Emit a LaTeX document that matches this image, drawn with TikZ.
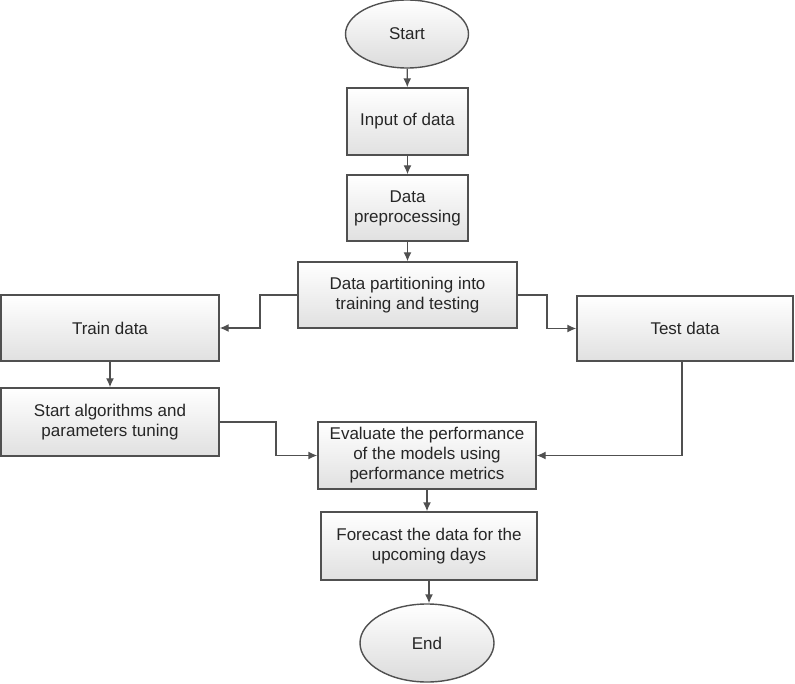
\documentclass[tikz,border=0pt]{standalone}
\usepackage{fontspec}
\setmainfont{Liberation Sans}
\usetikzlibrary{shapes.geometric,arrows.meta}
\definecolor{edge}{HTML}{505050}
\definecolor{txt}{HTML}{262626}
\begin{document}
\begin{tikzpicture}[x=1pt,y=-1pt,
  box/.style={draw=edge,line width=1.4pt,top color=white,bottom color=black!12,
    minimum width=#1,align=center,text=txt,font=\fontsize{17}{20}\selectfont,inner sep=2pt},
  oval/.style={ellipse,draw=edge,line width=1.4pt,top color=white,bottom color=black!14,
    text=txt,font=\fontsize{17}{20}\selectfont},
  conn/.style={draw=edge,line width=1.4pt,-{Latex[length=9pt,width=8pt]}}]
\useasboundingbox (0,0) rectangle (795,684);
\node[oval,minimum width=123pt,minimum height=68pt] (start) at (407,34) {Start};
\node[box=121pt,minimum height=67pt] (input) at (407.5,121.5) {Input of data};
\node[box=121pt,minimum height=66pt] (prep) at (407.5,208) {Data\\preprocessing};
\node[box=219pt,minimum height=66pt] (part) at (407.5,295) {Data partitioning into\\training and testing};
\node[box=218pt,minimum height=66pt] (train) at (110,328) {Train data};
\node[box=216pt,minimum height=65pt] (test) at (685,328.5) {Test data};
\node[box=218pt,minimum height=68pt] (algo) at (110,422) {Start algorithms and\\parameters tuning};
\node[box=218pt,minimum height=67pt] (eval) at (427,455.5) {Evaluate the performance\\of the models using\\performance metrics};
\node[box=216pt,minimum height=68pt] (fore) at (429,546) {Forecast the data for the\\upcoming days};
\node[oval,minimum width=134pt,minimum height=78pt] (end) at (427,643) {End};
\coordinate (pl) at (260,295);
\coordinate (pr) at (547,295);
\coordinate (al) at (276,422);
\draw[conn] (start) -- (input);
\draw[conn] (input) -- (prep);
\draw[conn] (prep) -- (part);
\draw[conn] (part.west) -- (pl) |- (train.east);
\draw[conn] (part.east) -- (pr) |- (test.west);
\draw[conn] (train) -- (algo);
\draw[conn] (algo.east) -- (al) |- (eval.west);
\draw[conn] ([xshift=-3pt]test.south) |- (eval.east);
\draw[conn] (eval.south) -- (eval.south |- fore.north);
\draw[conn] (fore.south) -- (fore.south |- end.north);
\end{tikzpicture}
\end{document}
